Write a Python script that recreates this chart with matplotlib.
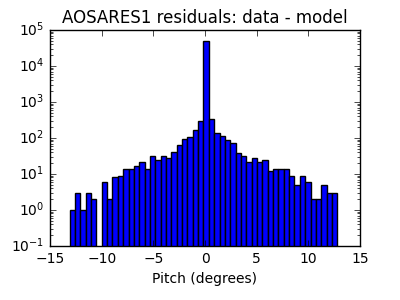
import numpy as np
import matplotlib
matplotlib.use("Agg")
import matplotlib.pyplot as plt

plt.style.use("classic")
plt.rcParams.update({"font.family": "DejaVu Sans", "font.size": 10})

# ── Histogram data ──────────────────────────────────────────────────────────
bin_lo, bin_hi, n_bins = -13.1, 12.8, 50
counts = [1, 3, 1, 3, 2, 0, 6, 2, 8, 9,
          14, 14, 17, 21, 14, 31, 24, 31, 27, 40,
          63, 96, 104, 167, 296, 49400, 330, 135, 111, 86,
          71, 38, 31, 21, 27, 21, 24, 12, 14, 14,
          14, 9, 5, 9, 6, 2, 2, 5, 3, 3]

edges = np.linspace(bin_lo, bin_hi, n_bins + 1)
centers = 0.5 * (edges[:-1] + edges[1:])

fig = plt.figure(figsize=(4, 3), dpi=100)
ax = fig.add_axes([0.125, 0.18, 0.775, 0.72])
ax.hist(centers, bins=edges, weights=counts, log=True, color="b", edgecolor="k")

ax.set_xlim(-15, 15)
ax.set_ylim(0.1, 1e5)
ax.set_xticks([-15, -10, -5, 0, 5, 10, 15])
ax.set_xlabel("Pitch (degrees)", fontsize=10)
ax.set_title("AOSARES1 residuals: data - model", fontsize=12)

fig.savefig("out.png", dpi=100)
